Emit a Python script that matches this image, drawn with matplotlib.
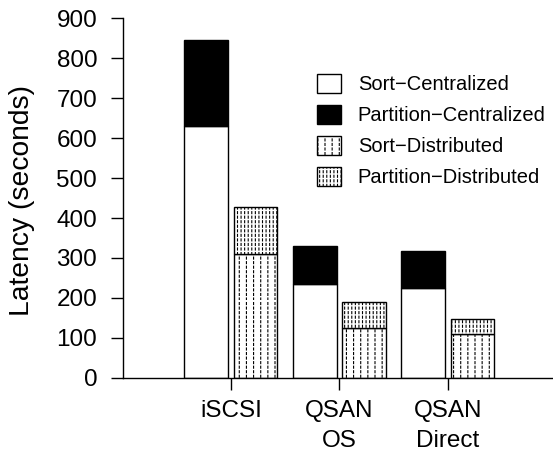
import warnings
import numpy as np
import matplotlib
matplotlib.use("Agg")
import matplotlib.pyplot as plt
from matplotlib import hatch as mhatch
from matplotlib.path import Path

warnings.filterwarnings("ignore", message=".*hatch must consist.*")

# ---- data -------------------------------------------------------------
systems = ["iSCSI", "QSAN\nOS", "QSAN\nDirect"]
sort_centralized = [630, 234, 224]
partition_centralized = [215, 97, 93]
sort_distributed = [310, 124, 110]
partition_distributed = [118, 67, 38]
yticks = [0, 100, 200, 300, 400, 500, 600, 700, 800, 900]


# ---- custom fill: columns of short vertical dashes --------------------
class DashColumns(mhatch.HatchPatternBase):
    """':' gives sparse dash columns, ';' dense ones (per 1-inch tile)."""

    def __init__(self, hatch, density):
        self.cols = 14 * hatch.count(':') + 28 * hatch.count(';')
        self.rows = 22 if self.cols else 0
        self.num_vertices = self.cols * self.rows * 2

    def set_vertices_and_codes(self, vertices, codes):
        xs = (np.arange(self.cols) + 0.5) / self.cols
        ys = np.arange(self.rows) / self.rows
        X, Y = np.meshgrid(xs, ys)
        X, Y = X.ravel(), Y.ravel()
        vertices[0::2, 0] = X
        vertices[0::2, 1] = Y
        vertices[1::2, 0] = X
        vertices[1::2, 1] = Y + 0.02
        codes[0::2] = Path.MOVETO
        codes[1::2] = Path.LINETO


mhatch._hatch_types.append(DashColumns)

plt.rcParams["font.family"] = ["Liberation Sans", "DejaVu Sans"]
plt.rcParams["hatch.linewidth"] = 0.8
plt.rcParams["hatch.color"] = "black"

fig = plt.figure(figsize=(5.53, 4.54), dpi=100)
ax = fig.add_axes([123 / 553, 76 / 454, 430 / 553, 360 / 454])

x = np.arange(len(systems))
w = 0.405
off = 0.226
lw = 1.0

ax.bar(x - off, sort_centralized, w, color="white", edgecolor="black",
       linewidth=lw, label="Sort\u2212Centralized")
ax.bar(x - off, partition_centralized, w, bottom=sort_centralized,
       color="black", edgecolor="black", linewidth=lw,
       label="Partition\u2212Centralized")
ax.bar(x + off, sort_distributed, w, color="white", edgecolor="black",
       linewidth=lw, hatch=":", label="Sort\u2212Distributed")
ax.bar(x + off, partition_distributed, w, bottom=sort_distributed,
       color="white", edgecolor="black", linewidth=lw, hatch=";",
       label="Partition\u2212Distributed")

ax.set_xlim(-0.995, 2.968)
ax.set_ylim(0, 900)
ax.set_yticks(yticks)
ax.set_xticks(x)
ax.set_xticklabels(systems, linespacing=1.45)

for s in ("top", "right"):
    ax.spines[s].set_visible(False)
for s in ("left", "bottom"):
    ax.spines[s].set_linewidth(1.0)

ax.tick_params(axis="y", direction="out", length=8.6, width=1.0,
               labelsize=17.5, pad=10)
ax.tick_params(axis="x", direction="out", length=8.6, width=1.0,
               labelsize=17.5, pad=7.5)

ax.set_ylabel("Latency (seconds)", fontsize=20.3)
ax.yaxis.label.set_verticalalignment("center")
ax.yaxis.set_label_coords(-0.2349, 0.4917)

ax.legend(loc="upper left", bbox_to_anchor=(317 / 553, 1 - 74 / 454),
          bbox_transform=fig.transFigure, frameon=False, fontsize=14.5,
          borderpad=0, borderaxespad=0, handlelength=1.18,
          handleheight=1.08, handletextpad=0.84, labelspacing=0.52)

fig.savefig("out.png", dpi=100)
